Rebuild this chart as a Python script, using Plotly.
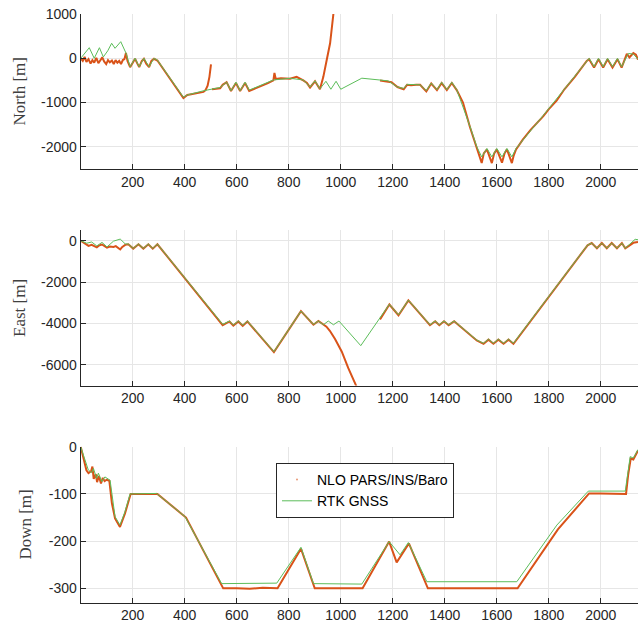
import plotly.graph_objects as go

# ---------------- data ----------------
# North [m]
t_north_gnss = [0, 33, 52, 72, 87, 104, 119, 132, 154, 174, 190, 209, 225, 243, 263, 282, 295, 395, 410, 472, 536,
                561, 578, 597, 613, 632, 648, 665, 700, 741, 805, 856, 882, 901, 920, 943, 962, 982, 1000, 1081,
                1182, 1218, 1242, 1255, 1305, 1329, 1348, 1370, 1388, 1408, 1427, 1446, 1497, 1523, 1542, 1562,
                1581, 1600, 1620, 1639, 1658, 1674, 1779, 1946, 1955, 1974, 1991, 2009, 2026, 2045, 2064, 2080,
                2106, 2125, 2143]
north_gnss = [0, 240, 0, 240, 30, 170, 340, 226, 376, 120, -190, 0, -190, 0, -190, 0, -40, -880, -830, -735, -660,
              -540, -733, -540, -733, -540, -720, -680, -600, -490, -453, -490, -650, -510, -690, -520, -700, -520,
              -700, -450, -510, -650, -680, -590, -600, -730, -560, -710, -540, -710, -540, -710, -1540, -2000,
              -2230, -2040, -2230, -2040, -2230, -2040, -2230, -2040, -1290, -40, 0, -190, 0, -190, 0, -190, 0,
              -190, 110, 95, -20]

t_north_nlo = [0, 8, 15, 22, 30, 38, 45, 52, 60, 68, 75, 83, 90, 98, 105, 112, 120, 127, 134, 141, 148, 155, 162,
               168, 174, 180, 190, 209, 218, 225, 235, 243, 252, 263, 272, 282, 295, 330, 360, 395, 410, 440, 472,
               480, 488, 495, 501, None, 505, 520, 536, 546, 561, 578, 588, 597, 613, 632, 648, 665, 680, 700, 720,
               741, 745, 750, 770, 805, 830, 856, 870, 882, 901, 920, 933, 946, 959, 972, 985, None, 1151, 1182,
               1195, 1218, 1242, 1255, 1270, 1290, 1305, 1329, 1348, 1370, 1388, 1408, 1427, 1446, 1470, 1497,
               1510, 1523, 1542, 1550, 1562, 1581, 1590, 1600, 1620, 1630, 1639, 1658, 1665, 1674, 1700, 1730,
               1779, 1800, 1830, 1860, 1900, 1946, 1955, 1974, 1991, 2009, 2026, 2045, 2064, 2080, 2100, 2110,
               2125, 2135, 2143]
north_nlo = [0, -60, 30, -80, -20, -120, -40, -100, 10, -110, -50, 20, -70, -130, -40, -90, -50, -130, -40, -100,
             -60, -130, -40, -20, 120, -60, -200, -10, -120, -200, -60, -10, -120, -200, -60, -10, -50, -350, -620,
             -900, -830, -790, -760, -720, -620, -420, -140, None, -700, -690, -680, -600, -540, -740, -640, -560,
             -740, -560, -740, -700, -650, -620, -560, -500, -330, -470, -450, -460, -420, -500, -560, -660, -520,
             -700, -420, -40, 340, 1020, 1800, None, -500, -520, -540, -650, -700, -600, -610, -600, -600, -750,
             -570, -720, -560, -720, -560, -720, -1000, -1560, -1800, -2020, -2370, -2150, -2060, -2370, -2150,
             -2060, -2360, -2150, -2060, -2370, -2200, -2060, -1840, -1620, -1310, -1150, -960, -700, -420, -60,
             -20, -210, -20, -210, -20, -210, -20, -210, 100, 20, 120, 80, -30]

# East [m]
t_east_gnss = [0, 23, 42, 62, 82, 101, 126, 152, 171, 183, 202, 222, 241, 260, 277, 295, 546, 572, 587, 606, 623,
               641, 743, 847, 895, 914, 933, 952, 972, 993, 1077, 1187, 1222, 1260, 1343, 1363, 1379, 1397, 1415,
               1436, 1523, 1549, 1568, 1587, 1606, 1626, 1645, 1664, 1949, 1965, 1985, 2004, 2023, 2042, 2062,
               2081, 2094, 2113, 2132, 2143]
east_gnss = [0, -120, -60, -250, -80, -300, -20, 80, -150, -160, -370, -160, -370, -160, -370, -160, -4040, -3880,
             -4070, -3880, -4080, -3880, -5360, -3400, -4040, -3880, -4060, -3880, -4060, -3880, -5070, -3070,
             -3580, -2870, -4060, -3880, -4060, -3880, -4060, -3880, -4800, -4950, -4760, -4950, -4760, -4950,
             -4760, -4950, -210, -120, -360, -120, -360, -120, -360, -120, -360, -120, 70, 50]

t_east_nlo = [0, 10, 20, 30, 42, 52, 62, 72, 82, 92, 101, 112, 126, 135, 145, 152, 160, 171, 183, 202, 222, 241,
              260, 277, 295, 420, 500, 505, 546, 572, 587, 606, 623, 641, 743, 847, 895, 914, 933, 945, 958, 978,
              1004, 1029, 1059, 1075, None, 1151, 1187, 1222, 1260, 1343, 1363, 1379, 1397, 1415, 1436, 1523,
              1549, 1568, 1587, 1606, 1626, 1645, 1664, 1949, 1965, 1985, 2004, 2023, 2042, 2062, 2081, 2094,
              2113, 2125, 2143]
east_nlo = [0, -80, -180, -250, -200, -280, -320, -220, -180, -260, -330, -280, -300, -260, -330, -420, -300, -200,
            -170, -380, -170, -380, -170, -380, -170, -2100, -3330, -3420, -4080, -3900, -4100, -3900, -4110, -3900,
            -5380, -3400, -4060, -3880, -4060, -4150, -4350, -4750, -5360, -6160, -7000, -7600, None, -3800, -3080,
            -3600, -2880, -4080, -3890, -4080, -3890, -4080, -3890, -4820, -4980, -4780, -4980, -4780, -4980,
            -4780, -4980, -220, -110, -360, -110, -360, -110, -360, -110, -370, -200, -100, -60]

# Down [m]
t_down_gnss = [0, 20, 29, 42, 49, 61, 68, 81, 93, 113, 132, 151, 170, 190, 292, 401, 542, 754, 847, 895, 1081,
               1186, 1228, 1260, 1331, 1677, 1831, 1952, 2094, 2113, 2125, 2143]
down_gnss = [0, -35, -49, -55, -46, -67, -56, -74, -64, -71, -148, -166, -138, -100, -99, -148, -290, -289, -213,
             -290, -291, -201, -229, -203, -286, -286, -166, -94, -94, -21, -24, -6]

t_down_nlo = [0, 15, 22, 30, 40, 45, 50, 58, 63, 70, 78, 85, 92, 100, 110, 120, 132, 151, 170, 192, 250, 295, 405,
              548, 600, 650, 700, 757, 847, 900, 1000, 1084, 1186, 1215, 1262, 1335, 1400, 1500, 1600, 1680, 1835,
              1955, 2000, 2050, 2097, 2105, 2115, 2125, 2143]
down_nlo = [0, -35, -50, -56, -52, -42, -68, -58, -75, -62, -78, -66, -73, -70, -72, -120, -152, -170, -142, -100,
            -100, -100, -150, -300, -300, -301, -299, -300, -216, -300, -300, -300, -201, -245, -205, -300, -300,
            -300, -300, -300, -175, -99, -99, -99, -100, -60, -25, -27, -8]

series_names = ["NLO PARS/INS/Baro", "RTK GNSS"]
y_titles = ["North [m]", "East [m]", "Down [m]"]
x_ticks = [200, 400, 600, 800, 1000, 1200, 1400, 1600, 1800, 2000]
y_ticks = [[1000, 0, -1000, -2000], [0, -2000, -4000, -6000], [0, -100, -200, -300]]
y_ranges = [[-2500, 1000], [-7000, 500], [-330, 0]]
x_range = [0, 2143]

# ---------------- styling ----------------
W, H = 638, 628
ORANGE = "#D95319"
GREEN = "#5cbd5a"
AXC = "#262626"
GRID = "#e6e6e6"
left_px = 80.7
domains_px = [(14.1, 168.8), (230.4, 385.6), (446.7, 602.5)]

fig = go.Figure()
nlo = [(t_north_nlo, north_nlo), (t_east_nlo, east_nlo), (t_down_nlo, down_nlo)]
gnss = [(t_north_gnss, north_gnss), (t_east_gnss, east_gnss), (t_down_gnss, down_gnss)]

for i in range(3):
    xa = "x" if i == 0 else f"x{i+1}"
    ya = "y" if i == 0 else f"y{i+1}"
    fig.add_trace(go.Scatter(x=nlo[i][0], y=nlo[i][1], mode="lines", line=dict(color=ORANGE, width=2),
                             xaxis=xa, yaxis=ya, showlegend=False, connectgaps=False))
    fig.add_trace(go.Scatter(x=gnss[i][0], y=gnss[i][1], mode="lines", line=dict(color=GREEN, width=1),
                             xaxis=xa, yaxis=ya, showlegend=False))

# legend entries
fig.add_trace(go.Scatter(x=[None], y=[None], mode="markers", marker=dict(color=ORANGE, size=2, opacity=0.6),
                         name=series_names[0], xaxis="x3", yaxis="y3"))
fig.add_trace(go.Scatter(x=[None], y=[None], mode="lines", line=dict(color=GREEN, width=1),
                         name=series_names[1], xaxis="x3", yaxis="y3"))

layout = dict(
    width=W, height=H, margin=dict(l=0, r=0, t=0, b=0, autoexpand=False),
    paper_bgcolor="white", plot_bgcolor="white",
    font=dict(family="Liberation Sans, Arial, sans-serif", size=14, color=AXC),
    legend=dict(x=276 / W, y=1 - 463 / H, xanchor="left", yanchor="top", bgcolor="white",
                bordercolor=AXC, borderwidth=1, font=dict(size=14, color="#000000"),
                itemwidth=30, tracegroupgap=0),
    annotations=[],
)
for i in range(3):
    top, bot = domains_px[i]
    xk = "xaxis" if i == 0 else f"xaxis{i+1}"
    yk = "yaxis" if i == 0 else f"yaxis{i+1}"
    ya = "y" if i == 0 else f"y{i+1}"
    xa = "x" if i == 0 else f"x{i+1}"
    layout[xk] = dict(domain=[left_px / W, 1.0], range=x_range, anchor=ya, tickvals=x_ticks,
                      ticktext=[str(v) for v in x_ticks], automargin=False,
                      ticks="inside", ticklen=5, tickcolor=AXC, showline=True, linecolor=AXC, linewidth=1,
                      showgrid=True, gridcolor=GRID, gridwidth=1, zeroline=False, mirror=False,
                      tickfont=dict(size=14, color=AXC))
    layout[yk] = dict(domain=[1 - bot / H, 1 - top / H], range=y_ranges[i], anchor=xa, tickvals=y_ticks[i],
                      ticktext=[str(v) for v in y_ticks[i]], automargin=False,
                      ticks="inside", ticklen=5, tickcolor=AXC, showline=True, linecolor=AXC, linewidth=1,
                      showgrid=True, gridcolor=GRID, gridwidth=1, zeroline=False, mirror=False,
                      tickfont=dict(size=14, color=AXC))
    layout["annotations"].append(dict(
        text=y_titles[i], xref="paper", yref="paper", x=(26 if i == 2 else 19) / W,
        y=1 - (top + bot) / 2 / H, textangle=-90, showarrow=False, xanchor="center", yanchor="middle",
        font=dict(family="Liberation Serif, DejaVu Serif, serif", size=17, color="#404040")))

fig.update_layout(**layout)
fig.write_html("out.html")
